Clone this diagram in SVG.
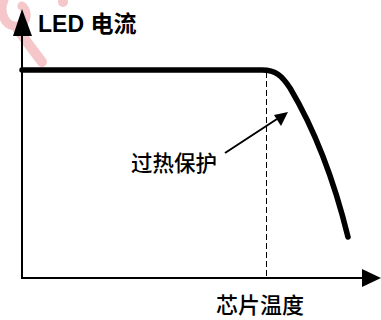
<svg xmlns="http://www.w3.org/2000/svg" width="381" height="320" viewBox="0 0 381 320">
<defs>
<style>
.ax{stroke:#000;stroke-width:2;fill:none}
.curve{stroke:#000;stroke-width:5.5;fill:none;stroke-linecap:round;stroke-linejoin:round}
.dash{stroke:#000;stroke-width:1;stroke-dasharray:6,3;fill:none}
.lbl{font-family:"Liberation Sans","Noto Sans CJK SC",sans-serif;fill:#000}
.cjk{font-family:"Noto Sans CJK SC",sans-serif;fill:#000;font-weight:500}
</style>
</defs>
<rect width="381" height="320" fill="#fff"/>
<g id="watermark" fill="none" stroke="#f5c6ca" stroke-linecap="round">
<path d="M 4 0 C 0 8 2 24 14 26 C 26 28 30 12 22 6" stroke-width="9"/>
<path d="M 18 30 L 42 62" stroke-width="10"/>
<circle cx="63" cy="2" r="5" fill="#f5c6ca" stroke="none"/>
</g>
<g id="connectors">
<line class="ax" x1="22" y1="278" x2="22" y2="34"/>
<polygon points="22,9 13,36 32,36" fill="#000"/>
<line class="ax" x1="21" y1="278" x2="364" y2="278"/>
<polygon points="381,278 362,269 362,287" fill="#000"/>
<line class="dash" x1="266.5" y1="72" x2="266.5" y2="278"/>
<path class="curve" d="M 22 70 L 262 70 C 276 70 282 76 290 88 C 315 130 334 180 348 237"/>
<line x1="225" y1="153" x2="277" y2="119" stroke="#000" stroke-width="2"/>
<polygon points="288,112 274,115 281,126" fill="#000"/>
</g>
<g id="label-y"><text class="lbl" x="38" y="32" style="font-size:23px;font-weight:bold">LED 电流</text></g>
<g id="label-protect"><text class="cjk" x="131" y="171" style="font-size:21.5px">过热保护</text></g>
<g id="label-x"><text class="cjk" x="216" y="313" style="font-size:22px">芯片温度</text></g>
</svg>
